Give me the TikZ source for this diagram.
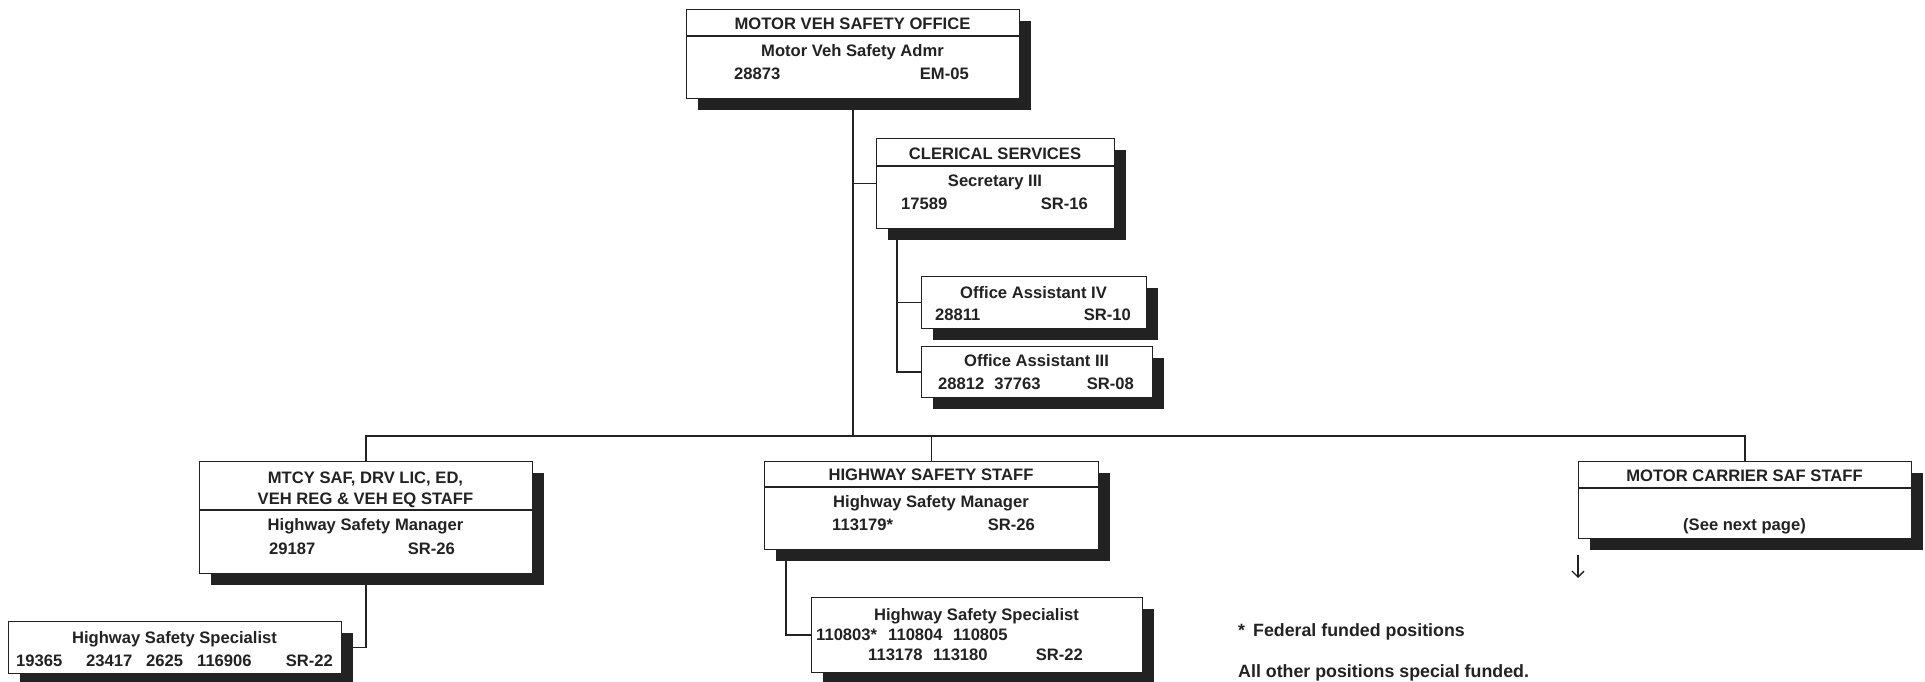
\documentclass[tikz,border=0pt]{standalone}
\usepackage{fontspec}
\setmainfont{Liberation Sans}
\usetikzlibrary{shadows,arrows.meta}
\pgfdeclarelayer{bg}
\pgfsetlayers{bg,main}
\definecolor{ink}{HTML}{222222}
\tikzset{
  orgbox/.style={draw=ink, line width=1.3pt, fill=white, rectangle, inner sep=0pt, anchor=north west,
    drop shadow={shadow xshift=11pt, shadow yshift=-11pt, fill=ink, opacity=1}},
  lbl/.style={font=\bfseries\fontsize{16.6}{20}\selectfont, inner sep=0pt, text=ink},
  note/.style={font=\bfseries\fontsize{17.8}{21}\selectfont, inner sep=0pt, text=ink},
  conn/.style={draw=ink, line width=1.5pt},
  divline/.style={draw=ink, line width=1.3pt},
}
\begin{document}
\begin{tikzpicture}[x=1pt,y=-1pt]
\useasboundingbox (0,0) rectangle (1925,681);
% boxes
\node[orgbox, minimum width=333pt, minimum height=89pt] (mvso) at (686,9) {};
\node[orgbox, minimum width=238pt, minimum height=90pt] (cler) at (876,138) {};
\node[orgbox, minimum width=225pt, minimum height=52pt] (oa4) at (921,276) {};
\node[orgbox, minimum width=231pt, minimum height=51pt] (oa3) at (921,346) {};
\node[orgbox, minimum width=333pt, minimum height=112pt] (mtcy) at (199,461) {};
\node[orgbox, minimum width=334pt, minimum height=88pt] (hss) at (764,461) {};
\node[orgbox, minimum width=333pt, minimum height=77pt] (mcs) at (1578,461) {};
\node[orgbox, minimum width=333pt, minimum height=52pt] (spec1) at (8,621) {};
\node[orgbox, minimum width=331pt, minimum height=75pt] (spec2) at (811,597) {};
% dividers
\draw[divline] (mvso.west |- 0,36) -- (mvso.east |- 0,36);
\draw[divline] (cler.west |- 0,166) -- (cler.east |- 0,166);
\draw[divline] (mtcy.west |- 0,510) -- (mtcy.east |- 0,510);
\draw[divline] (hss.west |- 0,487) -- (hss.east |- 0,487);
\draw[divline] (mcs.west |- 0,488) -- (mcs.east |- 0,488);
% connectors
\coordinate (cx) at (897,228);
\coordinate (hx) at (786,549);
\begin{pgfonlayer}{bg}
\draw[conn] (mvso.south) -- (mvso.south |- 0,436);
\draw[conn] (mvso.south |- cler.west) -- (cler.west);
\draw[conn] (cx) -- (cx |- oa3.west) -- (oa3.west);
\draw[conn] (cx |- oa4.west) -- (oa4.west);
\draw[conn] (mtcy.north) -- (mtcy.north |- 0,436) -- (mcs.north |- 0,436) -- (mcs.north);
\draw[conn] (hss.north) -- (hss.north |- 0,436);
\draw[conn] (mtcy.south) -- (mtcy.south |- spec1.east) -- (spec1.east);
\draw[conn] (hx) -- (hx |- spec2.west) -- (spec2.west);
\end{pgfonlayer}
% top box texts
\node[lbl, anchor=base] (mvsoH) at (852.5,29) {MOTOR VEH SAFETY OFFICE};
\node[lbl, anchor=base] (mvsoT) at (852.5,56) {Motor Veh Safety Admr};
\node[lbl, anchor=base west] (mvsoN) at (734,79) {28873};
\node[lbl, anchor=base east] (mvsoG) at (969,79) {EM-05};
% clerical
\node[lbl, anchor=base] (clerH) at (995,159) {CLERICAL SERVICES};
\node[lbl, anchor=base] (clerT) at (995,186) {Secretary III};
\node[lbl, anchor=base west] (clerN) at (901,209) {17589};
\node[lbl, anchor=base east] (clerG) at (1088,209) {SR-16};
% office assistants
\node[lbl, anchor=base] (oa4T) at (1033.5,298) {Office Assistant IV};
\node[lbl, anchor=base west] (oa4N) at (935,320) {28811};
\node[lbl, anchor=base east] (oa4G) at (1131,320) {SR-10};
\node[lbl, anchor=base] (oa3T) at (1036.5,366) {Office Assistant III};
\node[lbl, anchor=base west] (oa3N) at (938,389) {28812\hspace{10pt}37763};
\node[lbl, anchor=base east] (oa3G) at (1134,389) {SR-08};
% mtcy
\node[lbl, anchor=base] (mtcyH1) at (365.5,483) {MTCY SAF, DRV LIC, ED,};
\node[lbl, anchor=base] (mtcyH2) at (365.5,504) {VEH REG \& VEH EQ STAFF};
\node[lbl, anchor=base] (mtcyT) at (365.5,530) {Highway Safety Manager};
\node[lbl, anchor=base west] (mtcyN) at (269,554) {29187};
\node[lbl, anchor=base east] (mtcyG) at (455,554) {SR-26};
% hss
\node[lbl, anchor=base] (hssH) at (931,480) {HIGHWAY SAFETY STAFF};
\node[lbl, anchor=base] (hssT) at (931,507) {Highway Safety Manager};
\node[lbl, anchor=base west] (hssN) at (832,530) {113179*};
\node[lbl, anchor=base east] (hssG) at (1035,530) {SR-26};
% mcs
\node[lbl, anchor=base] (mcsH) at (1744.5,481) {MOTOR CARRIER SAF STAFF};
\node[lbl, anchor=base] (mcsT) at (1744.5,530) {(See next page)};
% spec1
\node[lbl, anchor=base] (s1T) at (174.5,643) {Highway Safety Specialist};
\node[lbl, anchor=base west] (s1a) at (16,666) {19365};
\node[lbl, anchor=base west] (s1b) at (86,666) {23417};
\node[lbl, anchor=base west] (s1c) at (146,666) {2625};
\node[lbl, anchor=base west] (s1d) at (197,666) {116906};
\node[lbl, anchor=base east] (s1G) at (333,666) {SR-22};
% spec2
\node[lbl, anchor=base] (s2T) at (976.5,620) {Highway Safety Specialist};
\node[lbl, anchor=base west] (s2a) at (816,640) {110803*};
\node[lbl, anchor=base west] (s2b) at (888,640) {110804};
\node[lbl, anchor=base west] (s2c) at (953,640) {110805};
\node[lbl, anchor=base west] (s2d) at (868,660) {113178};
\node[lbl, anchor=base west] (s2e) at (933,660) {113180};
\node[lbl, anchor=base east] (s2G) at (1083,660) {SR-22};
% arrow
\coordinate (arrT) at (1578,555);
\coordinate (arrB) at (1578,578);
\draw[draw=ink, line width=1.3pt, -{Straight Barb[length=6pt,width=12pt]}] (arrT) -- (arrB);
% notes
\node[note, anchor=base west] (note1) at (1238,636) {*\hspace{8pt}Federal funded positions};
\node[note, anchor=base west] (note2) at (1238,677) {All other positions special funded.};
\end{tikzpicture}
\end{document}
